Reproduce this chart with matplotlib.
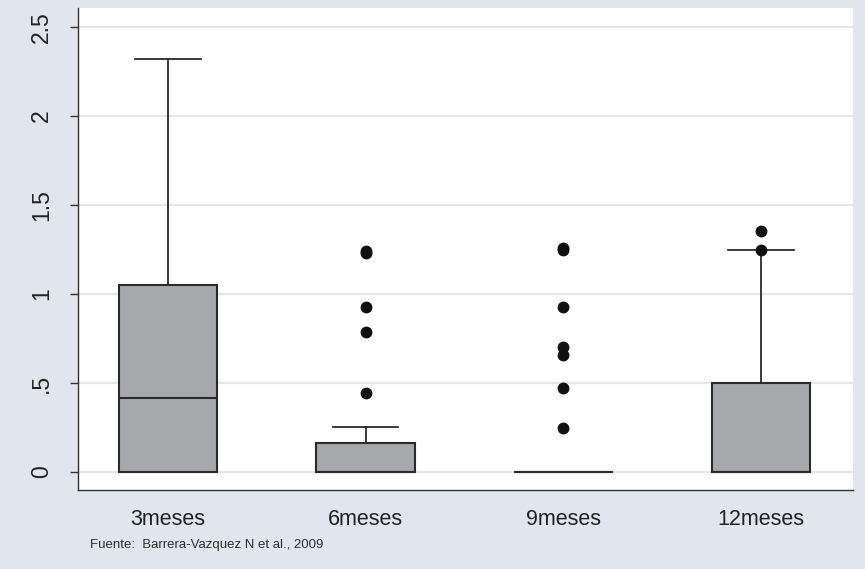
import matplotlib
matplotlib.use("Agg")
import matplotlib.pyplot as plt

plt.rcParams['font.family'] = ['Liberation Sans', 'DejaVu Sans']

# Box plot summary per follow-up time
groups = ["3meses", "6meses", "9meses", "12meses"]
q1 = [0.0, 0.0, 0.0, 0.0]
median = [0.416, 0.0, 0.0, 0.0]
q3 = [1.05, 0.165, 0.0, 0.498]
whisker_low = [0.0, 0.0, 0.0, 0.0]
whisker_high = [2.32, 0.255, 0.0, 1.25]
outliers = [
    [],
    [1.24, 1.23, 0.927, 0.787, 0.446],
    [1.258, 1.247, 0.927, 0.70, 0.66, 0.47, 0.247],
    [1.356, 1.25],
]
y_ticks = [0, 0.5, 1, 1.5, 2, 2.5]
y_tick_labels = ["0", ".5", "1", "1.5", "2", "2.5"]
source_note = "Fuente:  Barrera-Vazquez N et al., 2009"

bg = "#e1e5ee"
fig = plt.figure(figsize=(8.65, 5.69), dpi=100, facecolor=bg)
ax = fig.add_axes([0.0902, 0.1388, 0.8958, 0.8472])
ax.set_facecolor("white")

stats = []
for i, g in enumerate(groups):
    stats.append(dict(label=g, q1=q1[i], med=median[i], q3=q3[i],
                      whislo=whisker_low[i], whishi=whisker_high[i],
                      fliers=outliers[i]))

positions = list(range(1, len(groups) + 1))
ax.bxp(stats, positions=positions, widths=0.5, patch_artist=True,
       showfliers=True,
       boxprops=dict(facecolor="#a7a8ab", edgecolor="#2a2a2a", linewidth=1.5),
       medianprops=dict(color="#2a2a2a", linewidth=1.5),
       whiskerprops=dict(color="#2a2a2a", linewidth=1.3),
       capprops=dict(color="#2a2a2a", linewidth=1.3),
       capwidths=0.33,
       flierprops=dict(marker="o", markerfacecolor="#111111",
                       markeredgecolor="#111111", markersize=7.5))

for y in y_ticks:
    ax.axhline(y, color="#e6e6e6", linewidth=1.6, zorder=0)

ax.set_xlim(0.545, 4.465)
ax.set_ylim(-0.101, 2.607)
ax.set_yticks(y_ticks)
ax.set_yticklabels(y_tick_labels, rotation=90, va="center", fontsize=16.5,
                   color="#222222")
ax.set_xticks(positions)
ax.set_xticklabels(groups, fontsize=15.5, color="#222222")
ax.tick_params(axis="x", length=0, pad=14)
ax.tick_params(axis="y", length=6, width=1.0, color="#333333", pad=12)

for s in ["top", "right"]:
    ax.spines[s].set_visible(False)
for s in ["left", "bottom"]:
    ax.spines[s].set_color("#333333")
    ax.spines[s].set_linewidth(1.0)

fig.text(90 / 865, 1 - 545 / 569, source_note, fontsize=9.5,
         color="#2e2e2e", ha="left", va="center")

fig.savefig("out.png", dpi=100, facecolor=bg)
